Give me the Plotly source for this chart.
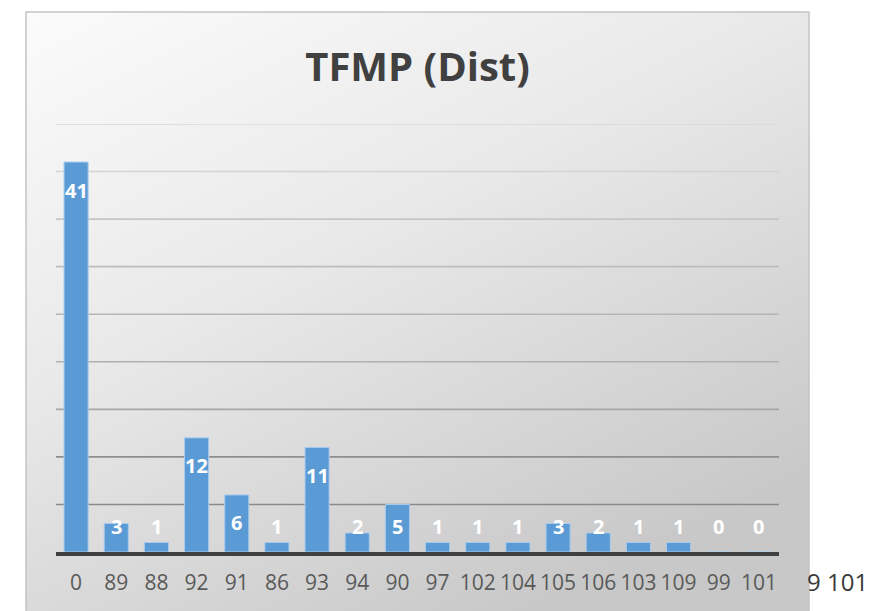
import base64
import plotly.graph_objects as go

# Distribution of TFMP distance values
categories = ["0", "89", "88", "92", "91", "86", "93", "94", "90", "97",
              "102", "104", "105", "106", "103", "109", "99", "101"]
counts = [41, 3, 1, 12, 6, 1, 11, 2, 5, 1, 1, 1, 3, 2, 1, 1, 0, 0]
grid_values = [5, 10, 15, 20, 25, 30, 35, 40, 45]
grid_colors = ["#8a8a8a", "#8e8e8e", "#a6a6a6", "#b0b0b0", "#b6b6b6",
               "#bdbdbd", "#c6c6c6", "#d3d3d3", "#d8d8d8"]

W, H = 877, 611
L, R, T, B = 56, 98, 124, 59
pw, ph = W - L - R, H - T - B


def px_to_paper_x(px):
    return (px - L) / pw


def px_to_paper_y(py):
    return (H - B - py) / ph


# Soft grey card behind the chart (diagonal gradient)
svg = (
    "<svg xmlns='http://www.w3.org/2000/svg' width='783' height='600'>"
    "<defs><linearGradient id='g' x1='0' y1='0' x2='0.65' y2='1'>"
    "<stop offset='0' stop-color='#fbfbfb'/>"
    "<stop offset='0.45' stop-color='#e9e9e9'/>"
    "<stop offset='1' stop-color='#c8c8c8'/>"
    "</linearGradient></defs>"
    "<rect width='783' height='600' fill='url(#g)'/></svg>"
)
bg_uri = "data:image/svg+xml;base64," + base64.b64encode(svg.encode()).decode()

card_x0, card_x1 = px_to_paper_x(26), px_to_paper_x(809)
card_y1, card_y0 = px_to_paper_y(12), px_to_paper_y(612)

positions = list(range(len(categories)))

fig = go.Figure()
fig.add_trace(go.Bar(
    x=positions, y=counts,
    marker=dict(color="#5b9bd5", line=dict(color="#a9cbec", width=1)),
    customdata=categories,
    hovertemplate="%{customdata}: %{y}<extra></extra>",
))

shapes = [dict(type="rect", xref="paper", yref="paper",
               x0=card_x0, x1=card_x1, y0=card_y0, y1=card_y1,
               line=dict(color="#c4c4c4", width=1.5), fillcolor="rgba(0,0,0,0)",
               layer="below")]
for gv, gc in zip(grid_values, grid_colors):
    shapes.append(dict(type="line", xref="paper", yref="y", x0=0, x1=1,
                       y0=gv, y1=gv, line=dict(color=gc, width=1.6),
                       layer="below"))

annotations = []
for i, v in zip(positions, counts):
    annotations.append(dict(
        x=i, y=max(v - 2.95, 2.63), xref="x", yref="y", text=str(v),
        showarrow=False, yanchor="middle",
        font=dict(family="Open Sans", size=20, color="white", weight="bold"),
    ))
annotations.append(dict(
    x=px_to_paper_x(805), y=px_to_paper_y(581), xref="paper", yref="paper",
    text="9 101", showarrow=False, xanchor="left", yanchor="middle",
    font=dict(family="Open Sans", size=24, color="#3a3a3a"),
))

fig.update_layout(
    width=W, height=H,
    margin=dict(l=L, r=R, t=T, b=B, pad=0),
    paper_bgcolor="white", plot_bgcolor="rgba(0,0,0,0)",
    showlegend=False, bargap=0.4,
    title=dict(text="<b>TFMP (Dist)</b>", x=(L + pw / 2) / W,
               xanchor="center", y=1 - 67 / H, yanchor="middle",
               font=dict(family="Open Sans", size=40, color="#404040")),
    images=[dict(source=bg_uri, xref="paper", yref="paper",
                 x=card_x0, y=card_y1, sizex=card_x1 - card_x0,
                 sizey=card_y1 - card_y0, sizing="stretch",
                 xanchor="left", yanchor="top", layer="below")],
    shapes=shapes,
    annotations=annotations,
    xaxis=dict(range=[-0.5, len(categories) - 0.5], showgrid=False,
               zeroline=False, showline=True,
               linecolor="#404040", linewidth=3.5, ticks="", tickangle=0,
               tickmode="array", tickvals=positions, ticktext=categories,
               ticklabelstandoff=9,
               tickfont=dict(family="Open Sans", size=21, color="#595959")),
    yaxis=dict(range=[0, 45], showgrid=False, zeroline=False,
               showticklabels=False, ticks=""),
)

fig.write_html("out.html")
